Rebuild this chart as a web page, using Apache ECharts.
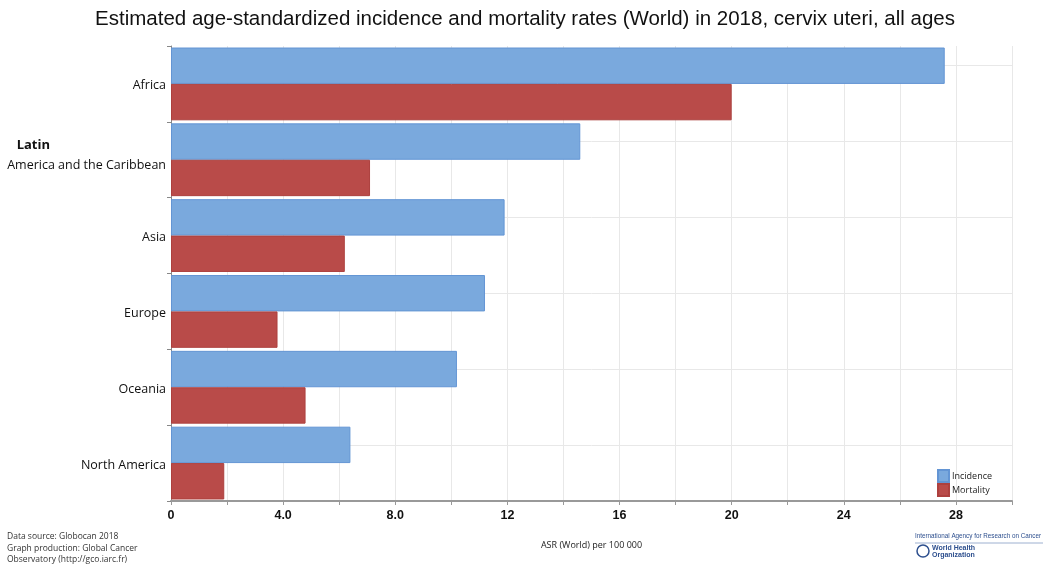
<!DOCTYPE html>
<html><head><meta charset="utf-8">
<script src="https://cdn.jsdelivr.net/npm/echarts@6/dist/echarts.min.js"></script>
<style>html,body{margin:0;padding:0;background:#fff}#c{width:1050px;height:572px}</style>
</head><body><div id="c"></div>
<script>
const categories = ['Africa', 'Latin America and the Caribbean', 'Asia', 'Europe', 'Oceania', 'North America'];
const incidence = [27.6, 14.6, 11.9, 11.2, 10.2, 6.4];
const mortality = [20.0, 7.1, 6.2, 3.8, 4.8, 1.9];
const seriesNames = ['Incidence', 'Mortality'];
const titleText = 'Estimated age-standardized incidence and mortality rates (World) in 2018, cervix uteri, all ages';
const xAxisName = 'ASR (World) per 100 000';
const sourceLines = ['Data source: Globocan 2018', 'Graph production: Global Cancer', 'Observatory (http://gco.iarc.fr)'];

const chart = echarts.init(document.getElementById('c'), null, {renderer: 'canvas'});
const labelFont = '"Open Sans", "Noto Sans", sans-serif';
chart.setOption({
  animation: false,
  backgroundColor: '#fff',
  title: {
    text: titleText, left: 'center', top: 4,
    textStyle: {fontFamily: '"Liberation Sans", Arial, sans-serif', fontSize: 20.5, fontWeight: 'normal', color: '#111'}
  },
  legend: {
    orient: 'vertical', left: 932, top: 464, itemGap: 0, itemWidth: 11, itemHeight: 12,
    icon: 'rect', data: seriesNames,
    textStyle: {fontFamily: labelFont, fontSize: 9, color: '#222', padding: [0,0,0,-2]}
  },
  grid: {left: 171, right: 38, top: 46, bottom: 71, containLabel: false},
  xAxis: {
    type: 'value', min: 0, max: 30, interval: 2,
    name: xAxisName, nameLocation: 'middle', nameGap: 40,
    nameTextStyle: {fontFamily: labelFont, fontSize: 9, color: '#222'},
    axisLine: {show: true, lineStyle: {color: '#999', width: 2}},
    axisTick: {show: true, length: 4, lineStyle: {color: '#999'}},
    axisLabel: {
      fontFamily: '"Liberation Sans", sans-serif', fontSize: 12.5, fontWeight: 'bold', color: '#111', margin: 8,
      formatter: v => (v % 4 !== 0 || v > 28) ? '' : (v === 0 ? '0' : (v < 10 ? v.toFixed(1) : String(v)))
    },
    splitLine: {show: true, lineStyle: {color: '#e8e8e8', width: 1}}
  },
  yAxis: {
    type: 'category', data: categories, inverse: true,
    axisLine: {show: true, lineStyle: {color: '#888', width: 1}},
    axisTick: {show: true, length: 4, lineStyle: {color: '#888'}},
    axisLabel: {
      fontFamily: labelFont, fontSize: 12.5, color: '#111', margin: 5, padding: [4, 0, 0, 0],
      formatter: v => v === 'Latin America and the Caribbean' ? '{b|Latin}{s|}\nAmerica and the Caribbean\n{e| }' : v,
      lineHeight: 20,
      rich: {b: {fontFamily: labelFont, fontSize: 13, fontWeight: 'bold', color: '#111'}, s: {width: 116}, e: {fontSize: 8, lineHeight: 12}}
    },
    splitLine: {show: false}
  },
  series: [
    {
      name: seriesNames[0], type: 'bar', data: incidence, barGap: '0%', barCategoryGap: '4%',
      itemStyle: {color: '#7aa9dd', borderColor: '#6395d4', borderWidth: 1},
      markLine: {
        silent: true, symbol: 'none', label: {show: false},
        lineStyle: {color: '#e8e8e8', width: 1, type: 'solid'},
        data: categories.map(c => ({yAxis: c})), z: 0
      },
      z: 2
    },
    {
      name: seriesNames[1], type: 'bar', data: mortality,
      itemStyle: {color: '#b94b49', borderColor: '#ad403e', borderWidth: 1},
      z: 2
    }
  ],
  graphic: [
    {type: 'text', left: 7, top: 531, style: {text: sourceLines.join('\n'), fontFamily: labelFont, fontSize: 8.5, lineHeight: 11.5, fill: '#333'}},
    {type: 'text', left: 915, top: 533, style: {text: 'International Agency for Research on Cancer', fontFamily: '"Liberation Sans", sans-serif', fontSize: 6.3, fontWeight: 'normal', fill: '#2d4f8e'}},
    {type: 'line', shape: {x1: 915, y1: 543, x2: 1043, y2: 543}, style: {stroke: '#9db0d0', lineWidth: 1}},
    {type: 'circle', shape: {cx: 923, cy: 551, r: 6}, style: {fill: '#fff', stroke: '#2d4f8e', lineWidth: 1.5}},
    {type: 'text', left: 932, top: 545, style: {text: 'World Health\nOrganization', fontFamily: '"Liberation Sans", sans-serif', fontSize: 7, lineHeight: 7, fontWeight: 'bold', fill: '#2d4f8e'}}
  ]
});
</script></body></html>
